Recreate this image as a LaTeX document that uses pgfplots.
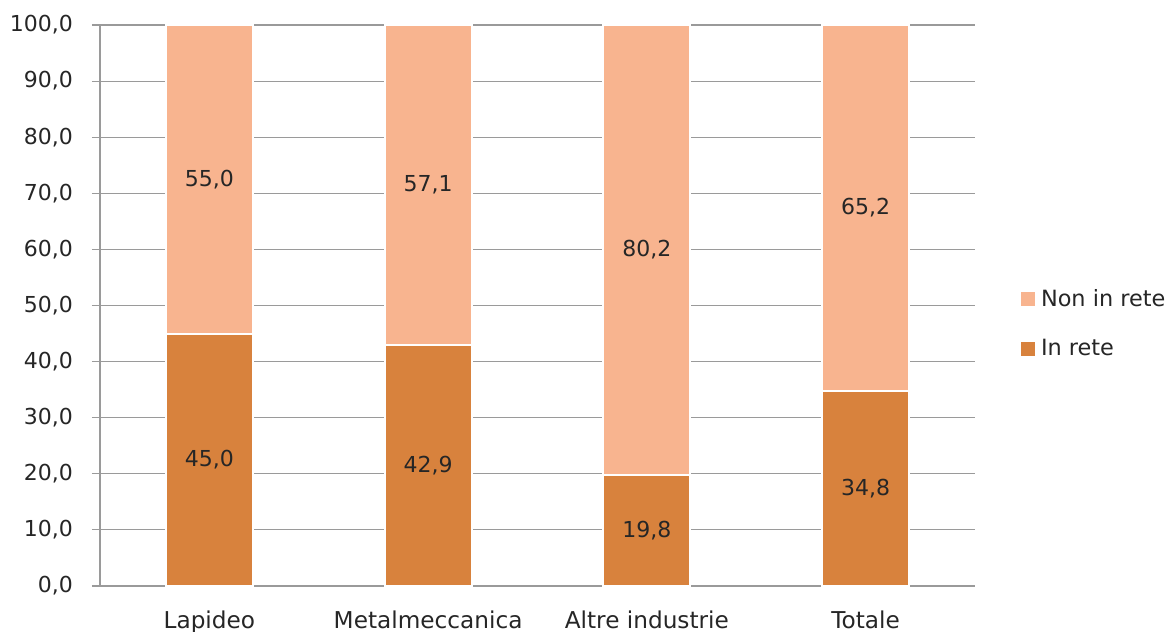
\documentclass[border=0pt]{standalone}
\usepackage{pgfplots}
\pgfplotsset{compat=1.18}
\usepackage{fontspec}
\setmainfont{DejaVu Sans}
\definecolor{inrete}{HTML}{D8823D}
\definecolor{nonrete}{HTML}{F8B48F}
\definecolor{gridgray}{HTML}{9A9A9A}
\definecolor{txt}{HTML}{262626}
\begin{document}
\begin{tikzpicture}
\useasboundingbox (-50pt,-23pt) rectangle (536.5pt,293pt);
\begin{axis}[
  at={(0,0)}, anchor=south west,
  scale only axis, width=437.5pt, height=280.5pt,
  ybar stacked, bar width=43.5pt,
  xmin=-0.5, xmax=3.5, ymin=0, ymax=100,
  xtick={0,1,2,3},
  xticklabels={Lapideo,Metalmeccanica,Altre industrie,Totale},
  ytick={0,10,...,100},
  axis x line*=bottom, axis y line*=left,
  axis line style={gridgray, line width=0.55pt},
  ymajorgrids, grid style={gridgray, line width=0.55pt},
  tick align=outside,
  major tick length=4pt,
  tick style={gridgray, line width=0.55pt},
  x tick style={draw=none},
  extra x ticks={-0.5,0.5,1.5,2.5,3.5},
  extra x tick labels={},
  extra x tick style={grid=none, major tick length=4pt, tick style={draw=gridgray, line width=0.55pt}},
  yticklabel style={/pgf/number format/fixed, /pgf/number format/fixed zerofill, /pgf/number format/precision=1, /pgf/number format/use comma, /pgf/number format/assume math mode=true},
  ticklabel style={font=\fontsize{11}{13}\selectfont, text=txt},
  xticklabel style={yshift=-5pt, font=\fontsize{11.6}{13}\selectfont},
  yticklabel style={xshift=-6pt},
  visualization depends on=rawy \as \rawy,
  nodes near coords={\pgfmathprintnumber[fixed,fixed zerofill,precision=1,use comma,assume math mode=true]{\rawy}},
  every node near coord/.append style={anchor=center, font=\fontsize{11}{13}\selectfont, text=txt},
  legend style={at={(1.043,0.467)}, anchor=west, draw=none, fill=none,
    font=\fontsize{11.2}{13}\selectfont, text=txt, row sep=11pt,
    /tikz/every even column/.append style={column sep=2pt}},
  legend cell align=left,
  reverse legend,
  legend image code/.code={\fill[#1] (0pt,-4pt) rectangle (8pt,4pt);},
]
\addplot[fill=inrete, draw=white, line width=1pt] coordinates {(0,45.0) (1,42.9) (2,19.8) (3,34.8)};
\addlegendentry{In rete}
\addplot[fill=nonrete, draw=white, line width=1pt] coordinates {(0,55.0) (1,57.1) (2,80.2) (3,65.2)};
\addlegendentry{Non in rete}
\end{axis}
\end{tikzpicture}
\end{document}
